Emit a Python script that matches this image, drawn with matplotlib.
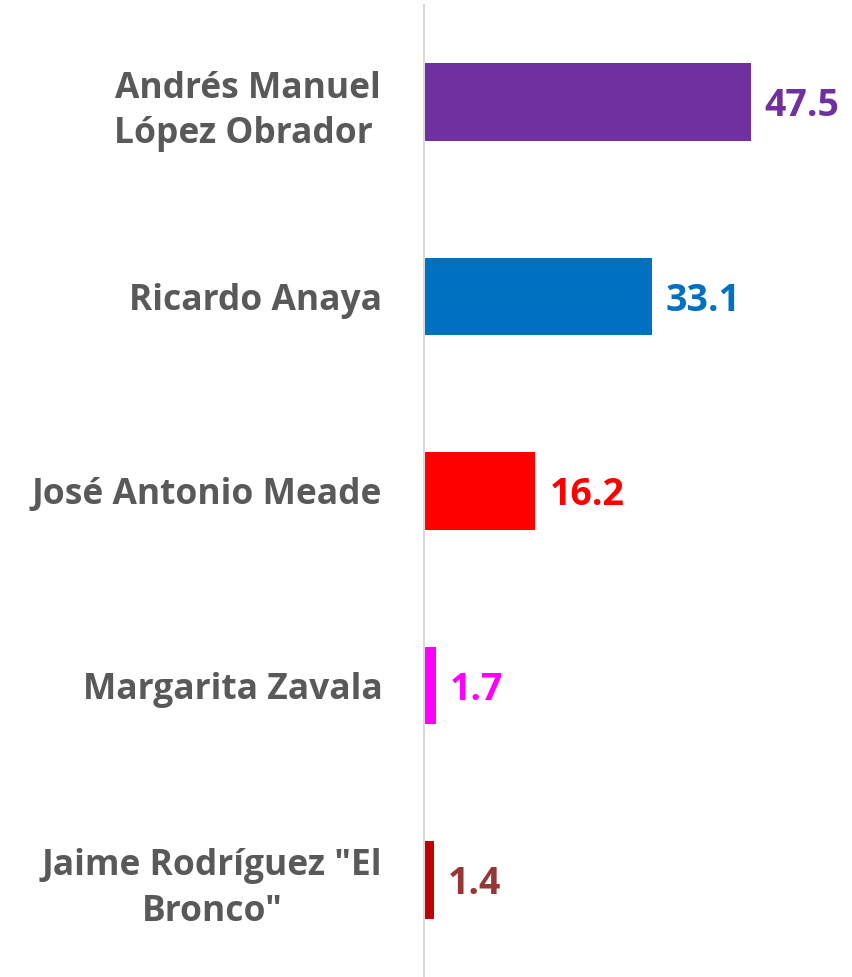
import matplotlib.pyplot as plt

candidates = ["Andrés Manuel\nLópez Obrador ", "Ricardo Anaya", "José Antonio Meade",
              "Margarita Zavala", "Jaime Rodríguez \"El\nBronco\""]
votes = [47.5, 33.1, 16.2, 1.7, 1.4]
barColors = ["#7030A0", "#0070C0", "#FF0000", "#FF00FF", "#C00000"]
textColors = ["#7030A0", "#0070C0", "#FF0000", "#FF00FF", "#953735"]

fig = plt.figure(figsize=(8.52, 9.77), dpi=100)
ax = fig.add_axes([424 / 852, 0, 428 / 852, 972 / 977])

pos = list(range(len(candidates)))
ax.barh(pos, votes, height=0.4, color=barColors)
ax.set_ylim(len(candidates) - 0.5, -0.5)
ax.set_xlim(0, 62.2)

# value labels next to bar ends
for i, v in enumerate(votes):
    ax.annotate(f"{v:.1f}", (v, i), xytext=(10, -3), textcoords="offset points",
                va="center", ha="left", fontsize=27, fontweight="bold",
                fontfamily="Open Sans", color=textColors[i])

ax.set_yticks(pos)
ax.set_yticklabels(candidates, fontsize=25.5, fontweight="bold", fontfamily="Open Sans",
                   color="#595959", ha="right", multialignment="center", linespacing=1.35)
ax.tick_params(axis="y", length=0, pad=30)
ax.set_xticks([])
for s in ["top", "right", "bottom"]:
    ax.spines[s].set_visible(False)
ax.spines["left"].set_color("#D9D9D9")
ax.spines["left"].set_linewidth(1.5)

plt.savefig("out.png")
